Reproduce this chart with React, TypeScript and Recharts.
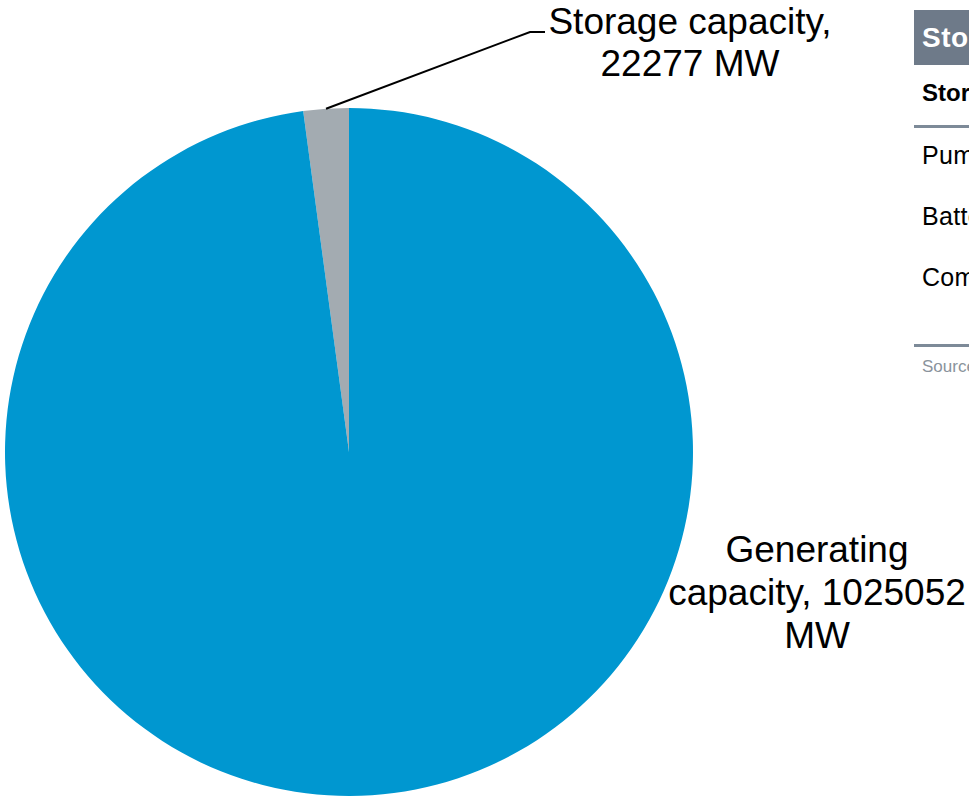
import { PieChart, Pie, Cell } from 'recharts';

const categories = ['Storage capacity', 'Generating capacity'];
const capacityMW = [22277, 1025052];
const sliceColors = ['#A3ABB1', '#0097D0'];

const tableTitle = 'Storage capacity by technology';
const tableHeader = 'Storage technology';
const tableRows = ['Pumped hydro storage', 'Battery storage', 'Compressed air storage'];
const tableSource = 'Source: capacity data';

const chartData = categories.map((name, i) => ({ name, value: capacityMW[i] }));

const FONT = '"Liberation Sans", Arial, sans-serif';

const renderLabel = (props: any) => {
  const { cx, cy, midAngle, outerRadius, index, name, value } = props;
  const RAD = Math.PI / 180;
  if (index === 0) {
    const sx = cx + outerRadius * Math.cos(-midAngle * RAD);
    const sy = cy + outerRadius * Math.sin(-midAngle * RAD);
    const ex = cx + 181;
    const ey = cy - 420;
    return (
      <g>
        <polyline points={`${sx},${sy} ${ex},${ey} ${ex + 15},${ey}`} fill="none" stroke="#000" strokeWidth={2} />
        <text x={cx + 341} y={cy - 418} textAnchor="middle" fontSize={37} fontFamily={FONT} fill="#000">
          <tspan x={cx + 341}>{name},</tspan>
          <tspan x={cx + 341} dy={42}>{value} MW</tspan>
        </text>
      </g>
    );
  }
  const lx = cx + 468;
  const words = name.split(' ');
  return (
    <text x={lx} y={cy + 110} textAnchor="middle" fontSize={37} fontFamily={FONT} fill="#000">
      <tspan x={lx}>{words[0]}</tspan>
      <tspan x={lx} dy={43}>{words[1]}, {value}</tspan>
      <tspan x={lx} dy={43}>MW</tspan>
    </text>
  );
};

export default function App() {
  return (
    <div style={{ position: 'absolute', left: 0, top: 0, width: 969, height: 796, overflow: 'hidden', background: '#fff' }}>
      <PieChart width={969} height={796} margin={{ top: 0, right: 0, bottom: 0, left: 0 }}>
        <Pie
          data={chartData}
          dataKey="value"
          nameKey="name"
          cx={349}
          cy={452}
          outerRadius={344}
          startAngle={90}
          endAngle={450}
          stroke="none"
          label={renderLabel}
          labelLine={false}
          isAnimationActive={false}
        >
          {chartData.map((d, i) => (
            <Cell key={d.name} fill={sliceColors[i]} />
          ))}
        </Pie>
      </PieChart>
      <div style={{ position: 'absolute', left: 914, top: 10, width: 560, fontFamily: FONT, whiteSpace: 'nowrap' }}>
        <div style={{ background: '#6E7A89', color: '#fff', fontWeight: 'bold', fontSize: 28, letterSpacing: 0.5, height: 55, lineHeight: '55px', paddingLeft: 8 }}>
          {tableTitle}
        </div>
        <div style={{ fontWeight: 'bold', fontSize: 24, color: '#000', height: 60, lineHeight: '55px', paddingLeft: 8, borderBottom: '3px solid #7D8A98' }}>
          {tableHeader}
        </div>
        {tableRows.map((r) => (
          <div key={r} style={{ fontSize: 25, letterSpacing: 0.3, color: '#000', height: 61, lineHeight: '55px', paddingLeft: 8 }}>
            {r}
          </div>
        ))}
        <div style={{ height: 33, borderBottom: '3px solid #7D8A98' }} />
        <div style={{ fontSize: 17, color: '#8A939C', paddingLeft: 8, marginTop: 10 }}>{tableSource}</div>
      </div>
    </div>
  );
}
